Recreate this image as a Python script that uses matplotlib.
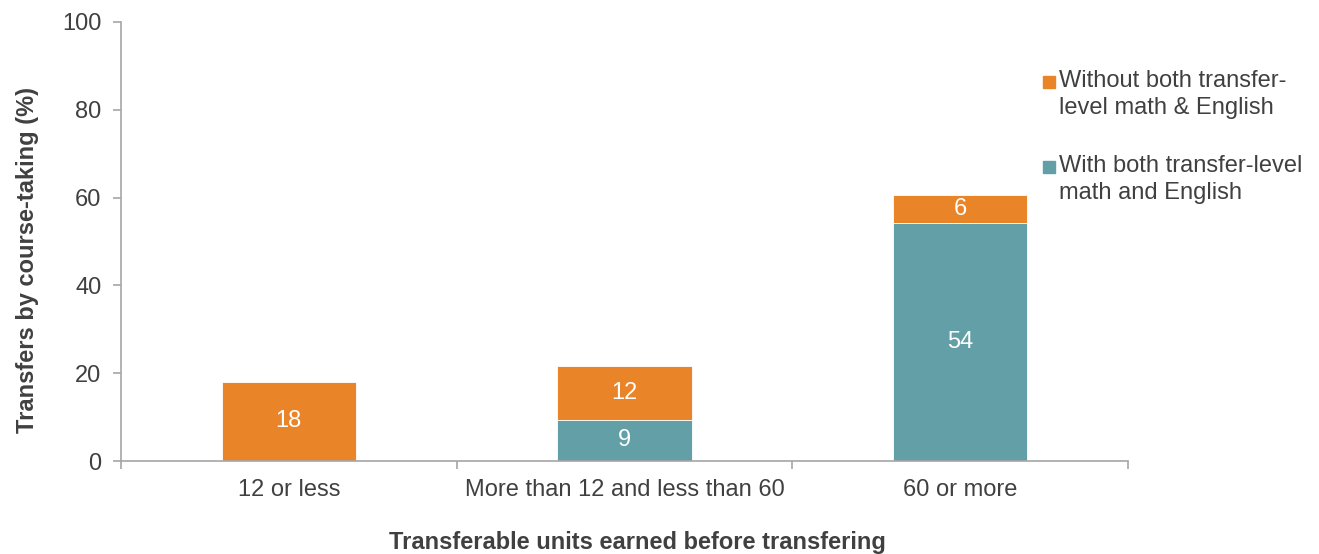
import matplotlib.pyplot as plt
from matplotlib.patches import Rectangle
import numpy as np

categories = ["12 or less", "More than 12 and less than 60", "60 or more"]
with_both = [0, 9.4, 54.3]
without_both = [18, 12.3, 6.3]
with_labels = ["", "9", "54"]
without_labels = ["18", "12", "6"]
series_names = ["Without both transfer-\nlevel math & English",
                "With both transfer-level\nmath and English"]

orange = "#E98428"
teal = "#639FA6"
grey_axis = "#A6A6A6"
text_col = "#404040"

plt.rcParams['font.family'] = ['Liberation Sans', 'DejaVu Sans']
FS = 17

fig = plt.figure(figsize=(13.19, 5.54), dpi=100)
ax = fig.add_axes([121 / 1319, 1 - 461 / 554, (1128 - 121) / 1319, (461 - 22) / 554])

x = np.arange(len(categories))
b1 = ax.bar(x, with_both, width=0.4, color=teal, edgecolor="white", linewidth=0.6)
b2 = ax.bar(x, without_both, width=0.4, bottom=with_both, color=orange, edgecolor="white",
            linewidth=0.6)

for i in range(len(categories)):
    if with_labels[i]:
        ax.text(x[i], with_both[i] / 2, with_labels[i], ha="center", va="center",
                color="white", fontsize=FS)
    ax.text(x[i], with_both[i] + without_both[i] / 2, without_labels[i], ha="center",
            va="center", color="white", fontsize=FS)

ax.set_xlim(-0.5, 2.5)
ax.set_ylim(0, 100)
ax.set_yticks([0, 20, 40, 60, 80, 100])
ax.set_xticks([-0.5, 0.5, 1.5, 2.5], minor=False)
ax.set_xticklabels([])
ax.set_xticks(x, minor=True)
ax.set_xticklabels(categories, minor=True)
ax.tick_params(axis="x", which="minor", length=0, pad=13, labelsize=FS, labelcolor=text_col)
ax.tick_params(axis="x", which="major", length=6, color=grey_axis, width=1.2)
ax.tick_params(axis="y", length=6, color=grey_axis, width=1.2, labelsize=FS,
               labelcolor=text_col, pad=8)

for s in ["top", "right"]:
    ax.spines[s].set_visible(False)
for s in ["left", "bottom"]:
    ax.spines[s].set_color(grey_axis)
    ax.spines[s].set_linewidth(1.2)

fig.text(28 / 1319, 1 - 260 / 554, "Transfers by course-taking (%)", rotation=90,
         ha="center", va="center", fontsize=FS, fontweight="bold", color=text_col)
fig.text(637 / 1319, 1 - 543 / 554, "Transferable units earned before transfering",
         ha="center", va="center", fontsize=FS, fontweight="bold", color=text_col)

# legend drawn by hand so the swatch sits beside the first line of each label
W, H = 1319, 554
for name, col, ytop in [(series_names[0], orange, 70), (series_names[1], teal, 155)]:
    fig.patches.append(Rectangle((1043 / W, 1 - (ytop + 18) / H), 12 / W, 12 / H,
                                 transform=fig.transFigure, color=col, figure=fig))
    fig.text(1059 / W, 1 - ytop / H, name, ha="left", va="top", fontsize=FS,
             color=text_col, linespacing=1.3)

fig.savefig("out.png", dpi=100)
